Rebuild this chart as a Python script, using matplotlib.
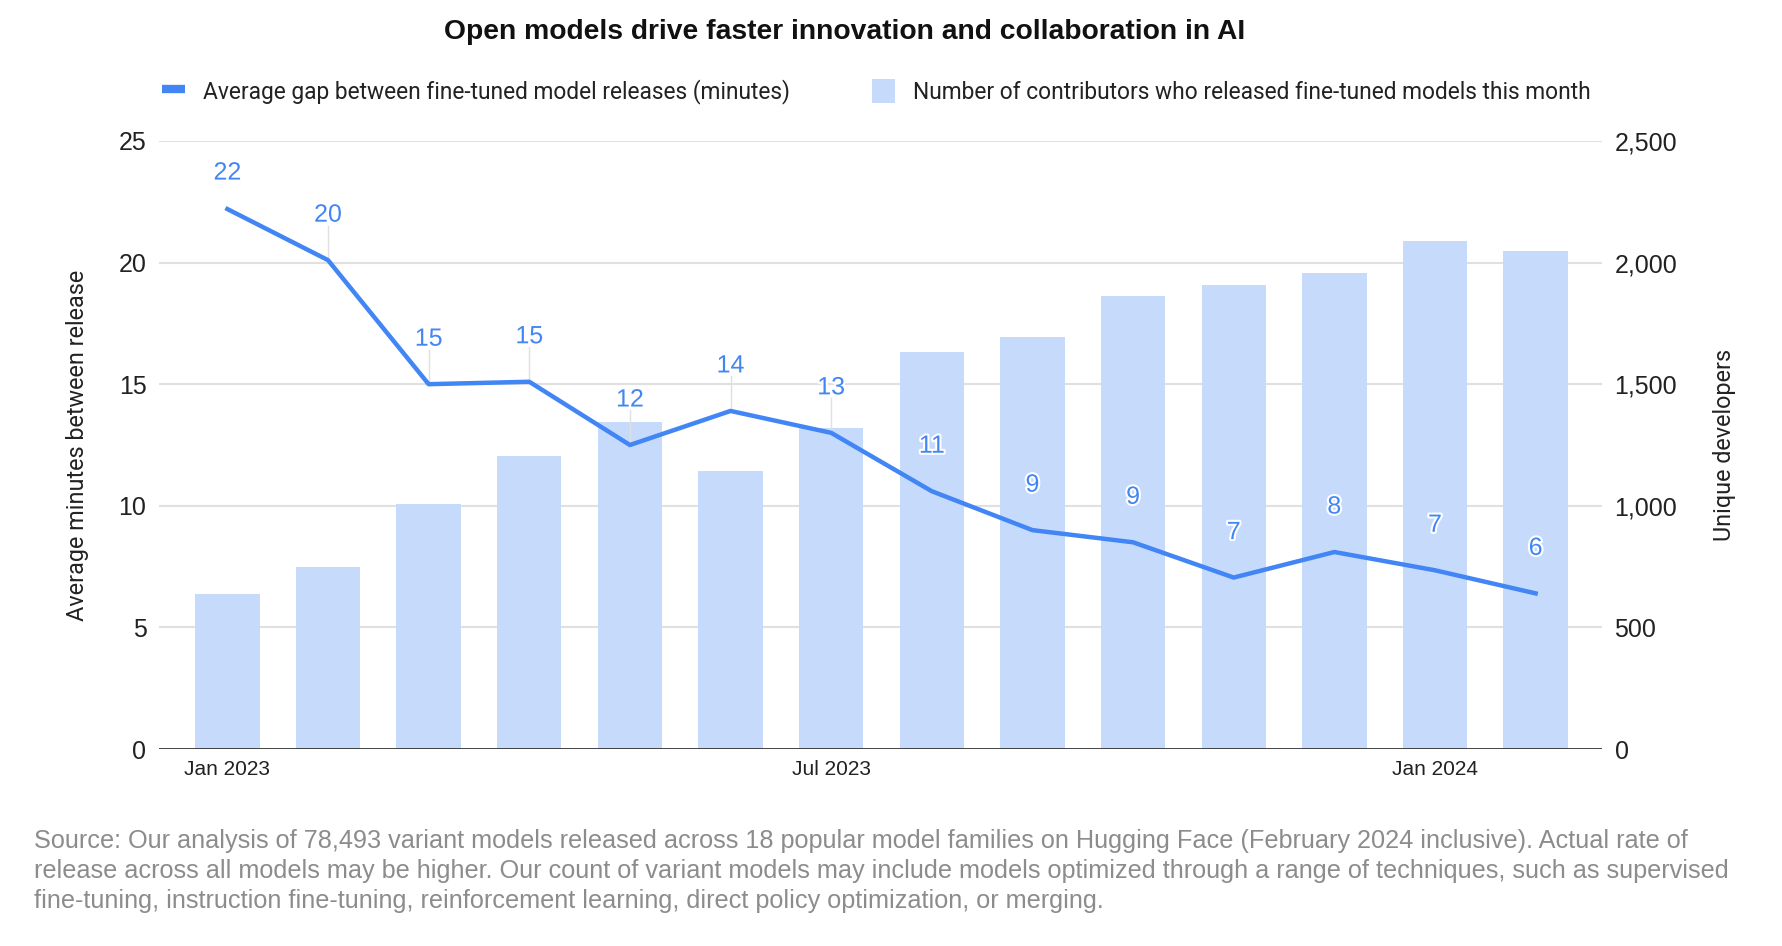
import matplotlib.pyplot as plt
import matplotlib.patheffects as pe
from matplotlib.lines import Line2D
from matplotlib.patches import Patch
import numpy as np

months = ["Jan 2023", "Feb 2023", "Mar 2023", "Apr 2023", "May 2023", "Jun 2023", "Jul 2023",
          "Aug 2023", "Sep 2023", "Oct 2023", "Nov 2023", "Dec 2023", "Jan 2024", "Feb 2024"]
developers = [636, 748, 1009, 1206, 1346, 1145, 1318, 1631, 1692, 1864, 1907, 1958, 2089, 2047]
gap_minutes = [22.2, 20.1, 15.0, 15.1, 12.5, 13.9, 13.0, 10.6, 9.0, 8.5, 7.05, 8.1, 7.35, 6.4]
gap_labels = [22, 20, 15, 15, 12, 14, 13, 11, 9, 9, 7, 8, 7, 6]
shown_ticks = {0: "Jan 2023", 6: "Jul 2023", 12: "Jan 2024"}

line_color = "#4285f4"
bar_color = "#c6dafc"
grid_color = "#e0e0e0"
tick_font = "Liberation Sans"

fig = plt.figure(figsize=(17.82, 9.46), dpi=100)
ax = fig.add_axes([0.0892, 0.2082, 0.8098, 0.6428])
ax2 = ax.twinx()
# line axes on top of the bar axes
ax.set_zorder(2)
ax.patch.set_visible(False)

x = np.arange(len(months))
ax2.bar(x, developers, width=0.64, color=bar_color, zorder=1)
ax2.set_ylim(0, 2500)
ax2.set_yticks([0, 500, 1000, 1500, 2000, 2500])
ax2.set_yticklabels(["0", "500", "1,000", "1,500", "2,000", "2,500"])
ax2.set_ylabel("Unique developers", fontsize=16.8, family="Roboto", color="#222222")
ax2.yaxis.set_label_coords(1.077, 0.5)

ax.plot(x, gap_minutes, color=line_color, lw=3.2, solid_joinstyle="round", zorder=3)
ax.set_ylim(0, 25)
ax.set_yticks([0, 5, 10, 15, 20, 25])
ax.set_ylabel("Average minutes between release", fontsize=16.8, family="Roboto", color="#222222")
ax.yaxis.set_label_coords(-0.0488, 0.5)
ax.set_xlim(-0.68, 13.66)
ax.set_xticks(list(shown_ticks.keys()))
ax.set_xticklabels(list(shown_ticks.values()))

# gridlines on the bar axes so they sit behind the bars
for v in [500, 1000, 1500, 2000, 2500]:
    ax2.axhline(v, color=grid_color, lw=1.5, zorder=0)
ax2.axhline(0, color="#333333", lw=2, zorder=2)

for a in (ax, ax2):
    for s in a.spines.values():
        s.set_visible(False)
    a.tick_params(length=0, labelsize=18, colors="#222222", pad=9)
    for t in a.get_yticklabels():
        t.set_family(tick_font)
ax.tick_params(axis="x", labelsize=15, pad=8)
for t in ax.get_xticklabels():
    t.set_family(tick_font)

# data labels with leader lines
for i, (v, lab) in enumerate(zip(gap_minutes, gap_labels)):
    off = 1.5 if i == 0 else 1.87
    ty = v + off
    if 1 <= i <= 6:
        ax.plot([i, i], [v, ty - 0.45], color=grid_color, lw=1, zorder=1)
    ax.text(i, ty, str(lab), ha="center", va="center", fontsize=18, family=tick_font,
            color=line_color, zorder=4,
            path_effects=[pe.withStroke(linewidth=3, foreground="white")])

# title
fig.text(0.474, 0.966, "Open models drive faster innovation and collaboration in AI",
         ha="center", va="center", fontsize=20.3, fontweight="bold", family="Liberation Sans",
         color="#111111")

# legend
handles = [Line2D([0], [0], color=line_color, lw=6, solid_capstyle="butt"),
           Patch(facecolor=bar_color, edgecolor="none")]
names = ["Average gap between fine-tuned model releases (minutes)",
         "Number of contributors who released fine-tuned models this month"]
leg = fig.legend(handles, names, loc="center", bbox_to_anchor=(0.492, 0.903), ncol=2,
                 frameon=False, handlelength=1.0, handleheight=1.2, handletextpad=0.8,
                 columnspacing=3.6, prop={"family": "Roboto", "size": 16.4})
for t in leg.get_texts():
    t.set_color("#222222")

# footnote
footnote = ("Source: Our analysis of 78,493 variant models released across 18 popular model families on Hugging Face (February 2024 inclusive). Actual rate of\n"
            "release across all models may be higher. Our count of variant models may include models optimized through a range of techniques, such as supervised\n"
            "fine-tuning, instruction fine-tuning, reinforcement learning, direct policy optimization, or merging.")
fig.text(0.019, 0.124, footnote, ha="left", va="top", fontsize=18.2, family="Liberation Sans",
         color="#8c8c8c", linespacing=1.33)

fig.savefig("out.png", dpi=100, facecolor="white")
